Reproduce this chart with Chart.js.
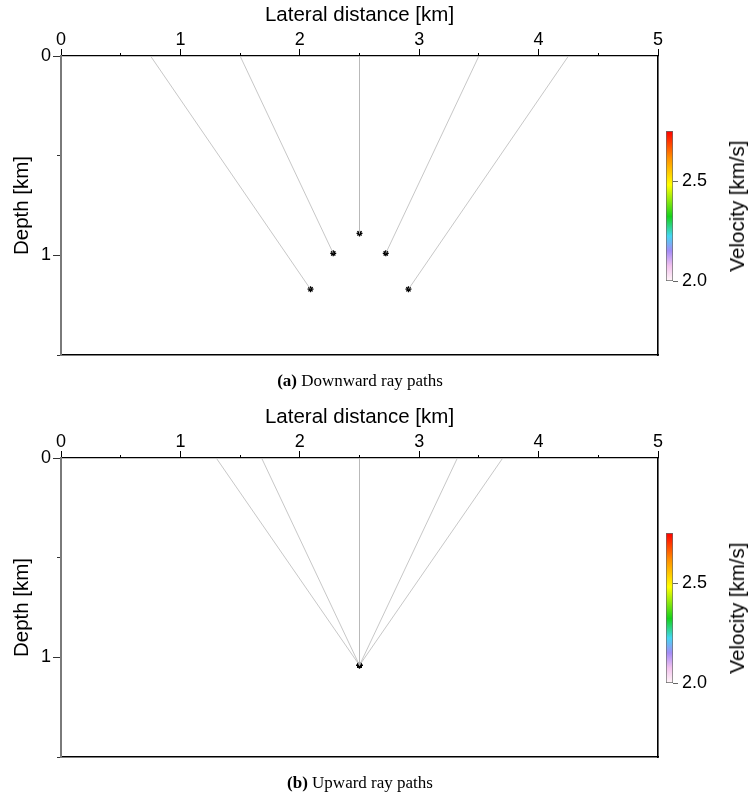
<!DOCTYPE html>
<html>
<head>
<meta charset="utf-8">
<script src="https://cdn.jsdelivr.net/npm/chart.js@4.4.1/dist/chart.umd.min.js"></script>
<style>
  body { margin: 0; background: #fff; width: 748px; height: 801px; position: relative; overflow: hidden; color: #000; }
  canvas { position: absolute; }
  .cap { position: absolute; left: 0; width: 720px; text-align: center; font: 17px "Liberation Serif", "Times New Roman", serif; line-height: 20px; }
  .vel { position: absolute; color: #000; font: 20.5px "Liberation Sans", Arial, sans-serif; white-space: nowrap; transform: translate(-50%, -50%) rotate(-90deg); }
</style>
</head>
<body>
<canvas id="mainA" width="748" height="400" style="left:0;top:0"></canvas>
<canvas id="barA" width="88" height="400" style="left:660px;top:0"></canvas>
<div class="vel" style="left:737px;top:206px">Velocity [km/s]</div>
<div class="cap" style="top:371px"><b>(a)</b> Downward ray paths</div>

<canvas id="mainB" width="748" height="399" style="left:0;top:402px"></canvas>
<canvas id="barB" width="88" height="399" style="left:660px;top:402px"></canvas>
<div class="vel" style="left:737px;top:608px">Velocity [km/s]</div>
<div class="cap" style="top:773px"><b>(b)</b> Upward ray paths</div>

<script>
// axes
var xTicks = [0, 1, 2, 3, 4, 5];
var xMinorTicks = [0.5, 1.5, 2.5, 3.5, 4.5];
var yTicks = [0, 1];
var yMinorTicks = [0.5, 1.5];
var velTicks = [2.0, 2.5];
var velMin = 2.0, velMax = 2.75;

// (a) downward rays: surface x -> end point (x, depth)
var downTopX = [0.75, 1.5, 2.5, 3.5, 4.25];
var downEndX = [2.09, 2.28, 2.5, 2.72, 2.91];
var downEndZ = [1.17, 0.99, 0.89, 0.99, 1.17];

// (b) upward rays: one source -> surface x
var upTopX = [1.3, 1.68, 2.5, 3.32, 3.7];
var upSrcX = [2.5, 2.5, 2.5, 2.5, 2.5];
var upSrcZ = [1.04, 1.04, 1.04, 1.04, 1.04];

// colormap for the velocity bar (bottom -> top)
var velColors = [
  [0.0, '#fff6f8'], [0.1, '#f2c2ee'], [0.2, '#a58cf6'], [0.3, '#45d6f2'],
  [0.43, '#16d11c'], [0.64, '#ffff00'], [0.82, '#ff9000'], [1.0, '#ff0000']
];

Chart.defaults.font.family = '"Liberation Sans", Arial, sans-serif';
Chart.defaults.font.size = 18;
Chart.defaults.color = '#000';

var titleFont = { size: 20.5 };

function fixTicks(list) {
  return function (s) { s.ticks = list.map(function (v) { return { value: v }; }); };
}

function makePanel(id, topX, endX, endZ) {
  var datasets = [];
  for (var i = 0; i < topX.length; i++) {
    datasets.push({
      type: 'line',
      data: [{ x: topX[i], y: 0 }, { x: endX[i], y: endZ[i] }],
      borderColor: '#b9b9b9',
      borderWidth: 0.8,
      pointRadius: 0
    });
  }
  var pts = [];
  for (var j = 0; j < endX.length; j++) pts.push({ x: endX[j], y: endZ[j] });
  datasets.push({
    type: 'scatter',
    data: pts,
    pointStyle: 'star',
    pointRadius: 3,
    borderColor: '#000',
    borderWidth: 1.3,
    backgroundColor: '#000'
  });

  return new Chart(document.getElementById(id), {
    type: 'scatter',
    data: { datasets: datasets },
    options: {
      responsive: false,
      animation: false,
      events: [],
      layout: { padding: { left: 0, top: 0, right: 90, bottom: id == 'mainA' ? 45 : 44 } },
      plugins: { legend: { display: false }, tooltip: { enabled: false } },
      scales: {
        x: {
          type: 'linear', position: 'top', weight: 1, min: 0, max: 5,
          afterBuildTicks: fixTicks(xTicks),
          afterFit: function (s) { s.height = 56; },
          ticks: { padding: -2, maxRotation: 0 },
          grid: { drawOnChartArea: false, tickLength: 7, color: '#000' },
          border: { color: '#000', width: 1.3 },
          title: { display: true, text: 'Lateral distance [km]', font: titleFont, padding: { top: 3, bottom: 0 } }
        },
        xm: {
          type: 'linear', position: 'top', weight: 0, min: 0, max: 5,
          afterBuildTicks: fixTicks(xMinorTicks),
          afterFit: function (s) { s.height = 0; },
          ticks: { display: false },
          grid: { drawOnChartArea: false, tickLength: 3, color: '#000' },
          border: { display: false }
        },
        xb: {
          type: 'linear', position: 'bottom', min: 0, max: 5,
          afterFit: function (s) { s.height = 0; },
          ticks: { display: false },
          grid: { drawOnChartArea: false, drawTicks: false },
          border: { color: '#000', width: 1.6 }
        },
        y: {
          type: 'linear', position: 'left', weight: 1, reverse: true, min: 0, max: 1.5,
          afterBuildTicks: fixTicks(yTicks),
          afterFit: function (s) { s.width = 61; },
          ticks: { padding: 2 },
          grid: { drawOnChartArea: false, tickLength: 8, color: '#333' },
          border: { color: '#7a7a7a', width: 2 },
          title: { display: true, text: 'Depth [km]', font: titleFont, padding: { top: 10.5, bottom: 0 } }
        },
        ym: {
          type: 'linear', position: 'left', weight: 0, reverse: true, min: 0, max: 1.5,
          afterBuildTicks: fixTicks(yMinorTicks),
          afterFit: function (s) { s.width = 0; },
          ticks: { display: false },
          grid: { drawOnChartArea: false, tickLength: 4, color: '#333' },
          border: { display: false }
        },
        yr: {
          type: 'linear', position: 'right', reverse: true, min: 0, max: 1.5,
          afterFit: function (s) { s.width = 0; },
          ticks: { display: false },
          grid: { drawOnChartArea: false, drawTicks: false },
          border: { color: '#000', width: 1.6 }
        }
      }
    }
  });
}

function makeColorbar(id, bottomPad) {
  return new Chart(document.getElementById(id), {
    type: 'bar',
    data: {
      labels: [''],
      datasets: [{
        data: [[velMin, velMax]],
        backgroundColor: function (c) {
          var area = c.chart.chartArea;
          if (!area) return null;
          var g = c.chart.ctx.createLinearGradient(0, area.bottom, 0, area.top);
          velColors.forEach(function (s) { g.addColorStop(s[0], s[1]); });
          return g;
        },
        borderColor: '#6a6a6a',
        borderWidth: 1,
        borderSkipped: false,
        barPercentage: 1,
        categoryPercentage: 1
      }]
    },
    options: {
      responsive: false,
      animation: false,
      events: [],
      layout: { padding: { left: 6, top: 131, right: 0, bottom: bottomPad } },
      plugins: { legend: { display: false }, tooltip: { enabled: false } },
      scales: {
        x: { display: false },
        y: {
          position: 'right', min: velMin, max: velMax,
          afterBuildTicks: fixTicks(velTicks),
          afterFit: function (s) { s.width = 75; },
          ticks: { padding: 4, callback: function (v) { return v.toFixed(1); } },
          grid: { drawOnChartArea: false, tickLength: 5, color: '#666' },
          border: { display: false }
        }
      }
    }
  });
}

var chartA = makePanel('mainA', downTopX, downEndX, downEndZ);
var barA = makeColorbar('barA', 119);
var chartB = makePanel('mainB', upTopX, upSrcX, upSrcZ);
var barB = makeColorbar('barB', 118);
</script>
</body>
</html>
